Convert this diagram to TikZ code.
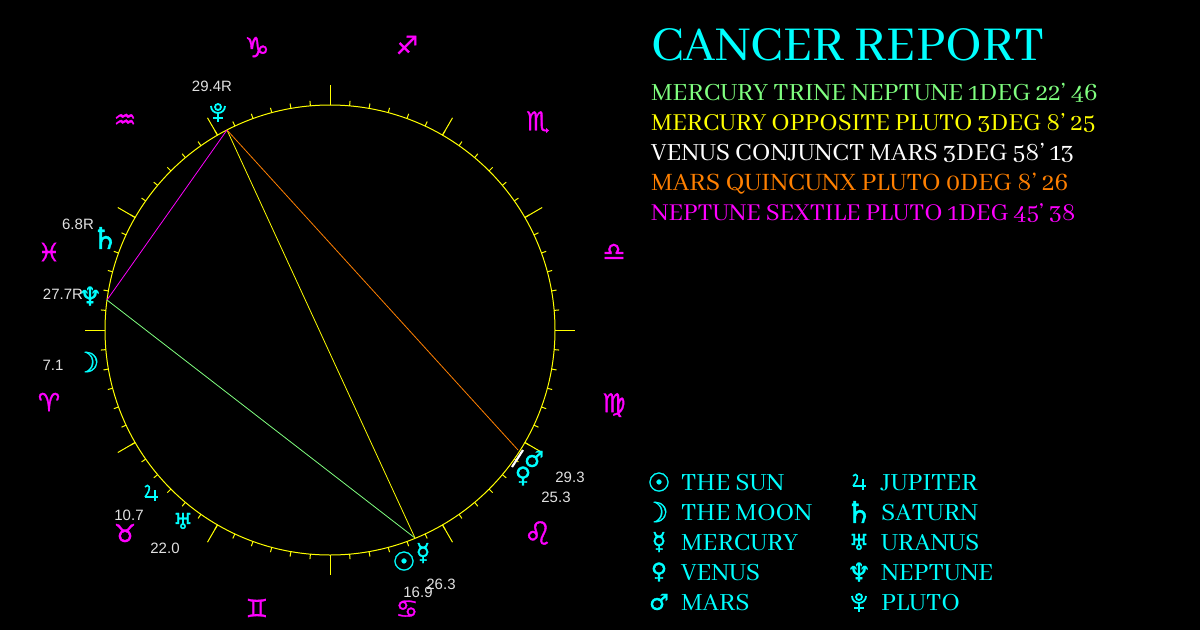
\documentclass[tikz,border=0pt]{standalone}
\usepackage{fontspec}
\setmainfont[Numbers=Lining]{Abhaya Libre}
\newfontfamily\symb[FakeBold=1.2]{DejaVu Sans}
\newfontfamily\arial{Liberation Sans}
\definecolor{aspgreen}{RGB}{128,255,128}
\definecolor{asporange}{RGB}{255,128,0}
\definecolor{numgray}{RGB}{225,225,225}
\definecolor{plcyan}{RGB}{0,255,255}
\definecolor{sgmagenta}{RGB}{255,0,255}
\definecolor{wheelyellow}{RGB}{255,255,0}
\tikzset{
  sign/.style={sgmagenta,font=\symb\fontsize{#1}{#1}\selectfont,inner sep=0pt},
  sign/.default=25,
  planet/.style={plcyan,font=\symb\fontsize{#1}{#1}\selectfont,inner sep=0pt},
  planet/.default=24,
  degree/.style={numgray,font=\arial\fontsize{15}{15}\selectfont,inner sep=0pt},
  report/.style={anchor=base west,inner sep=0pt,font=\fontsize{#1}{27}\selectfont},
  report/.default=27.2,
  legend/.style={anchor=base west,inner sep=0pt,plcyan,font=\fontsize{27.2}{27}\selectfont},
  plutosym/.pic={
    \draw[plcyan,line width=1.8pt] (0,-5) circle (3pt);
    \draw[plcyan,line width=1.8pt] (-7,-6) arc (180:360:7pt);
    \draw[plcyan,line width=1.8pt] (0,1) -- (0,10) (-5,6) -- (5,6);
  },
  jupitersym/.pic={
    \draw[plcyan,line width=1.6pt] (4,-3) -- (4,8) (-6,4) -- (7,4);
    \draw[plcyan,line width=1.6pt] (-6,-6) .. controls (-3,-10) and (2,-6) .. (-6,4);
  }
}
\begin{document}
\begin{tikzpicture}[x=1pt,y=-1pt]
\fill[black] (0,0) rectangle (1200,630);
\useasboundingbox (0,0) rectangle (1200,630);

\begin{scope}[shift={(330,330)},wheelyellow,line width=1pt]
\draw (0,0) circle (225pt);
\foreach \a in {0,5,...,355} {\draw (\a:225) -- (\a:230);}
\foreach \a in {0,30,...,330} {\draw (\a:225) -- (\a:245);}
\end{scope}

\coordinate (pluto) at (227,130);
\coordinate (neptune) at (107,300);
\coordinate (mercury) at (415,538);
\coordinate (mars) at (518,450);
\coordinate (venus) at (512,467);
\coordinate (marsb) at (523,450);

\draw[aspgreen,line width=.8pt] (mercury) -- (neptune);
\draw[wheelyellow,line width=.8pt] (mercury) -- (pluto);
\draw[asporange,line width=.8pt] (mars) -- (pluto);
\draw[sgmagenta,line width=.8pt] (neptune) -- (pluto);
\draw[white,line width=2.2pt] (venus) -- (marsb);

\node[sign=28] (capricorn) at (257,47) {♑};
\node[sign] (sagittarius) at (407,45) {♐};
\node[sign=26] (scorpio) at (538,122) {♏};
\node[sign] (libra) at (614,252) {♎};
\node[sign=26] (virgo) at (614,405) {♍};
\node[sign=32] (leo) at (538,533) {♌};
\node[sign=25] (cancer) at (407,609) {♋};
\node[sign] (gemini) at (257,608) {♊};
\node[sign] (taurus) at (125,533) {♉};
\node[sign] (aries) at (49,402) {♈};
\node[sign] (pisces) at (49,252) {♓};
\node[sign] (aquarius) at (125,121) {♒};

\pic at (218,112) {plutosym};
\node[planet=30] (psat) at (105,238) {♄};
\node[planet=26] (pnep) at (90,296) {♆};
\node[planet=28] (pmoo) at (87,362) {☽};
\pic at (151,493) {jupitersym};
\node[planet=22] (pura) at (183,521) {♅};
\node[planet=26] (psun) at (404,561) {☉};
\node[planet=24] (pmer) at (423,553) {☿};
\node[planet=22] (pven) at (523,476) {♀};
\node[planet=22] (pmar) at (534,459) {♂};

\node[degree] (dplu) at (212,86) {29.4R};
\node[degree] (dsat) at (78,224) {6.8R};
\node[degree] (dnep) at (63,294) {27.7R};
\node[degree] (dmoo) at (53,365) {7.1};
\node[degree] (dtau) at (129,515) {10.7};
\node[degree] (dura) at (165,548) {22.0};
\node[degree] (dsun) at (418,592) {16.9};
\node[degree] (dmer) at (441,584) {26.3};
\node[degree] (dven) at (556,497) {25.3};
\node[degree] (dmar) at (570,477) {29.3};

\node[report,plcyan,font=\fontsize{53.6}{54}\selectfont] (title) at (651,60) {CANCER REPORT};
\node[report,aspgreen] (r1) at (651,100) {MERCURY TRINE NEPTUNE 1DEG 22' 46};
\node[report=26.8,wheelyellow] (r2) at (651,130) {MERCURY OPPOSITE PLUTO 3DEG 8' 25};
\node[report,white] (r3) at (651,160) {VENUS CONJUNCT MARS 3DEG 58' 13};
\node[report=27.5,asporange] (r4) at (651,190) {MARS QUINCUNX PLUTO 0DEG 8' 26};
\node[report=26.6,sgmagenta] (r5) at (651,220) {NEPTUNE SEXTILE PLUTO 1DEG 45' 38};

\node[planet=26] (lsun) at (659,482) {☉};
\node[planet=28] (lmoo) at (656,512) {☽};
\node[planet=24] (lmer) at (659,542) {☿};
\node[planet=22] (lven) at (659,572) {♀};
\node[planet=22] (lmar) at (659,602) {♂};
\pic at (859,482) {jupitersym};
\node[planet=30] (lsat) at (859,512) {♄};
\node[planet=22] (lura) at (859,542) {♅};
\node[planet=26] (lnep) at (859,572) {♆};
\pic at (859,602) {plutosym};

\node[legend] (nsun) at (681,490) {THE SUN};
\node[legend] (nmoo) at (681,520) {THE MOON};
\node[legend] (nmer) at (681,550) {MERCURY};
\node[legend] (nven) at (681,580) {VENUS};
\node[legend] (nmar) at (681,610) {MARS};
\node[legend] (njup) at (881,490) {JUPITER};
\node[legend] (nsat) at (881,520) {SATURN};
\node[legend] (nura) at (881,550) {URANUS};
\node[legend] (nnep) at (881,580) {NEPTUNE};
\node[legend] (nplu) at (881,610) {PLUTO};
\end{tikzpicture}
\end{document}
